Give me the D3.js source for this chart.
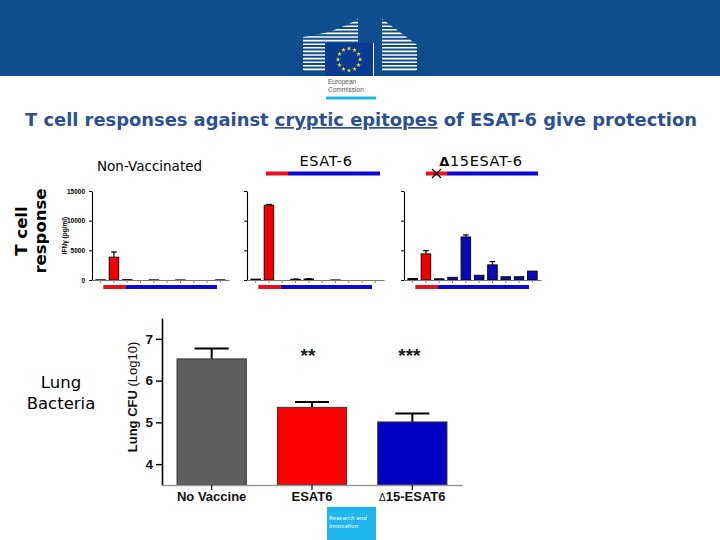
<!DOCTYPE html>
<html>
<head>
<meta charset="utf-8">
<script src="https://cdn.jsdelivr.net/npm/d3@7"></script>
<style>
  body { margin: 0; background: #fff; }
  svg { display: block; }
</style>
</head>
<body>
<svg id="slide"></svg>
<script>
// ---- data ----
// IFNγ (pg/ml) per peptide, three mouse groups
const peptides = ['p1', 'p2', 'p3', 'p4', 'p5', 'p6', 'p7', 'p8', 'p9', 'p10'];
const peptideType = ['control', 'dominant', 'cryptic', 'cryptic', 'cryptic', 'cryptic', 'cryptic', 'cryptic', 'cryptic', 'cryptic'];
const ifnTicks = [0, 5000, 10000, 15000];

const nonVaccMean = [40, 3850, 60, 0, 30, 0, 20, 0, 0, 30];
const nonVaccErr = [0, 870, 0, 0, 0, 0, 0, 0, 0, 0];
const esatMean = [150, 12600, 0, 120, 180, 0, 20, 0, 0, 0];
const esatErr = [0, 150, 0, 40, 40, 0, 0, 0, 0, 0];
const d15Mean = [250, 4400, 200, 450, 7250, 800, 2550, 550, 550, 1500];
const d15Err = [0, 550, 0, 0, 350, 0, 550, 0, 0, 0];

// lung bacteria (log10 CFU)
const vaccines = ['No Vaccine', 'ESAT6', '15-ESAT6'];
const cfuMean = [6.52, 5.36, 5.01];
const cfuErr = [0.25, 0.13, 0.2];
const signif = ['', '**', '***'];
const cfuTicks = [4, 5, 6, 7];

const W = 720, H = 540;
const svg = d3.select('#slide').attr('width', W).attr('height', H);

// ---- header band + logo ----
svg.append('rect').attr('width', W).attr('height', 76).attr('fill', '#0f4d8e');

const logo = svg.append('g');
const defs = svg.append('defs');
defs.append('clipPath').attr('id', 'bldL')
  .append('path').attr('d', 'M303,37 Q335,33 358,19 L358,72 L303,72 Z');
defs.append('clipPath').attr('id', 'bldR')
  .append('path').attr('d', 'M382,19 Q400,32 417,45 L417,72 L382,72 Z');
const stripeY = d3.range(19, 73, 3.6);
logo.append('g').attr('clip-path', 'url(#bldL)')
  .selectAll('line').data(stripeY).join('line')
  .attr('x1', 303).attr('x2', 358).attr('y1', d => d).attr('y2', d => d)
  .attr('stroke', '#fff').attr('stroke-width', 1.6);
logo.append('g').attr('clip-path', 'url(#bldR)')
  .selectAll('line').data(stripeY).join('line')
  .attr('x1', 382).attr('x2', 417).attr('y1', d => d).attr('y2', d => d)
  .attr('stroke', '#fff').attr('stroke-width', 1.6);
logo.append('rect').attr('x', 325).attr('y', 43).attr('width', 48).attr('height', 33).attr('fill', '#0b3a92');
logo.append('line').attr('x1', 373.5).attr('x2', 373.5).attr('y1', 43).attr('y2', 76).attr('stroke', '#fff').attr('stroke-width', 1);
logo.append('g').selectAll('path').data(d3.range(12)).join('path')
  .attr('d', d3.symbol(d3.symbolStar, 7))
  .attr('transform', i => `translate(${349 + 11 * Math.cos(i * Math.PI / 6)},${59.5 + 11 * Math.sin(i * Math.PI / 6)})`)
  .attr('fill', '#f3d431');
logo.append('text').attr('x', 328).attr('y', 84).text('European')
  .attr('font-family', 'Arial, Liberation Sans, sans-serif').attr('font-size', 6.5).attr('fill', '#555');
logo.append('text').attr('x', 328).attr('y', 92).text('Commission')
  .attr('font-family', 'Arial, Liberation Sans, sans-serif').attr('font-size', 6.5).attr('fill', '#555');
logo.append('rect').attr('x', 326).attr('y', 96.5).attr('width', 50).attr('height', 3).attr('fill', '#25b6e8');

// ---- title ----
const title = svg.append('text')
  .attr('x', 25).attr('y', 126)
  .attr('font-family', 'DejaVu Sans, Verdana, sans-serif')
  .attr('font-weight', 'bold').attr('font-size', 17)
  .attr('fill', '#2c5093')
  .attr('textLength', 672).attr('lengthAdjust', 'spacingAndGlyphs');
title.append('tspan').text('T cell responses against ');
title.append('tspan').text('cryptic epitopes').attr('text-decoration', 'underline');
title.append('tspan').text(' of ESAT-6 give protection');

// ---- row labels ----
const rowLab = svg.append('g').attr('font-family', 'DejaVu Sans, Verdana, sans-serif').attr('fill', '#000');
rowLab.append('text').attr('transform', 'translate(27,231) rotate(-90)').attr('text-anchor', 'middle')
  .attr('font-weight', 'bold').attr('font-size', 16.5).text('T cell');
rowLab.append('text').attr('transform', 'translate(46,231) rotate(-90)').attr('text-anchor', 'middle')
  .attr('font-weight', 'bold').attr('font-size', 16.5).text('response');
rowLab.append('text').attr('x', 61).attr('y', 388).attr('text-anchor', 'middle').attr('font-size', 16.5).text('Lung');
rowLab.append('text').attr('x', 61).attr('y', 409).attr('text-anchor', 'middle').attr('font-size', 16.5).text('Bacteria');

// ---- panel titles with antigen strips ----
const heads = svg.append('g').attr('font-family', 'DejaVu Sans, Verdana, sans-serif');
heads.append('text').attr('x', 97).attr('y', 171).attr('font-size', 13.5).text('Non-Vaccinated');
heads.append('text').attr('x', 326).attr('y', 166).attr('text-anchor', 'middle').attr('font-size', 14.5)
  .attr('letter-spacing', 0.6).text('ESAT-6');
const dt = heads.append('text').attr('x', 481).attr('y', 166).attr('text-anchor', 'middle').attr('font-size', 14.5)
  .attr('letter-spacing', 0.6);
dt.append('tspan').attr('font-weight', 'bold').attr('font-size', 13).text('\u0394');
dt.append('tspan').text('15ESAT-6');

function antigenStrip(g, x0, xr, x1, y, h) {
  g.append('rect').attr('x', x0).attr('y', y - h / 2).attr('width', xr - x0).attr('height', h).attr('fill', '#e8101a');
  g.append('rect').attr('x', xr).attr('y', y - h / 2).attr('width', x1 - xr).attr('height', h).attr('fill', '#0a0ad0');
}
antigenStrip(heads, 266, 288, 380, 173.5, 4);
antigenStrip(heads, 426, 447, 538, 173.5, 4);
heads.append('path').attr('d', 'M432,169 L441,178 M441,169 L432,178').attr('stroke', '#000').attr('stroke-width', 1.3);

// ---- small peptide panels ----
class PeptidePanel {
  constructor(_config, _means, _errs) {
    this.config = {
      parent: _config.parent,
      x0: _config.x0,
      top: _config.top || 191,
      bottom: _config.bottom || 280,
      showLabels: _config.showLabels || false
    };
    this.means = _means;
    this.errs = _errs;
    this.initVis();
  }

  initVis() {
    let vis = this;
    const c = vis.config;
    vis.g = c.parent.append('g');

    vis.xScale = d3.scaleBand().domain(peptides)
      .range([c.x0, c.x0 + 137]).paddingInner(0.28).paddingOuter(0.29);
    vis.yScale = d3.scaleLinear().domain([0, 15000]).range([c.bottom, c.top]);
    vis.color = d3.scaleOrdinal().domain(['control', 'dominant', 'cryptic'])
      .range(['#111', '#f00000', '#0a0ab8']);

    vis.renderVis();
  }

  renderVis() {
    let vis = this;
    const c = vis.config;
    const data = peptides.map((p, i) => ({ p, type: peptideType[i], v: vis.means[i], e: vis.errs[i] }));

    // error bars first so the bar covers the lower half
    const eb = vis.g.append('g').selectAll('g').data(data.filter(d => d.e > 0)).join('g');
    eb.append('line')
      .attr('x1', d => vis.xScale(d.p) + vis.xScale.bandwidth() / 2)
      .attr('x2', d => vis.xScale(d.p) + vis.xScale.bandwidth() / 2)
      .attr('y1', d => vis.yScale(d.v)).attr('y2', d => vis.yScale(d.v + d.e))
      .attr('stroke', '#000').attr('stroke-width', 1.2);
    eb.append('line')
      .attr('x1', d => vis.xScale(d.p) + 2).attr('x2', d => vis.xScale(d.p) + vis.xScale.bandwidth() - 2)
      .attr('y1', d => vis.yScale(d.v + d.e)).attr('y2', d => vis.yScale(d.v + d.e))
      .attr('stroke', '#000').attr('stroke-width', 1.2);

    vis.g.append('g').selectAll('rect').data(data.filter(d => d.v > 0)).join('rect')
      .attr('x', d => vis.xScale(d.p))
      .attr('y', d => vis.yScale(d.v))
      .attr('width', vis.xScale.bandwidth())
      .attr('height', d => vis.yScale(0) - vis.yScale(d.v))
      .attr('fill', d => vis.color(d.type))
      .attr('stroke', '#000').attr('stroke-width', 0.9);

    const yAxis = d3.axisLeft(vis.yScale).tickValues(ifnTicks).tickSize(3).tickSizeOuter(0)
      .tickFormat(c.showLabels ? d3.format('d') : '');
    const yG = vis.g.append('g').attr('transform', `translate(${c.x0},0)`).call(yAxis);
    yG.selectAll('text').attr('font-family', 'Arial, Liberation Sans, sans-serif')
      .attr('font-weight', 'bold').attr('font-size', 6.5).attr('dx', -1);
    yG.select('.domain').attr('stroke', '#000').attr('stroke-width', 1.1);

    const xAxis = d3.axisBottom(vis.xScale).tickSize(3).tickSizeOuter(0).tickFormat('');
    const xG = vis.g.append('g').attr('transform', `translate(0,${c.bottom})`).call(xAxis);
    xG.select('.domain').attr('stroke', '#777');
    xG.selectAll('.tick line').attr('stroke', '#888');

    // peptide coverage strip below the axis
    const step = vis.xScale.step();
    const mid = p => vis.xScale(p) + vis.xScale.bandwidth() / 2;
    antigenStrip(vis.g, mid(peptides[1]) - 0.8 * step, mid(peptides[2]) - 0.1 * step,
      mid(peptides[9]) - 0.25 * step, 287, 4);

    if (c.showLabels) {
      vis.g.append('text')
        .attr('transform', `translate(${c.x0 - 25},${(c.top + c.bottom) / 2}) rotate(-90)`)
        .attr('text-anchor', 'middle')
        .attr('font-family', 'Arial, Liberation Sans, sans-serif')
        .attr('font-weight', 'bold').attr('font-size', 6.5)
        .text('IFN\u03b3 (pg/ml)');
    }
  }
}

new PeptidePanel({ parent: svg, x0: 92, showLabels: true }, nonVaccMean, nonVaccErr);
new PeptidePanel({ parent: svg, x0: 247 }, esatMean, esatErr);
new PeptidePanel({ parent: svg, x0: 404 }, d15Mean, d15Err);

// ---- lung CFU chart ----
const cfu = svg.append('g');
const xCfu = d3.scaleBand().domain(vaccines).range([162, 462]).paddingInner(0.31).paddingOuter(0.15);
const yCfu = d3.scaleLinear().domain([3.5, 7.5]).range([485, 318]);
const cfuColor = d3.scaleOrdinal().domain(vaccines).range(['#5f5f5f', '#ff0000', '#0000c0']);
const cfuData = vaccines.map((v, i) => ({ v, m: cfuMean[i], e: cfuErr[i], s: signif[i] }));
const cx = d => xCfu(d.v) + xCfu.bandwidth() / 2;

const ebar = cfu.append('g').selectAll('g').data(cfuData).join('g');
ebar.append('line')
  .attr('x1', cx).attr('x2', cx)
  .attr('y1', d => yCfu(d.m)).attr('y2', d => yCfu(d.m + d.e))
  .attr('stroke', '#000').attr('stroke-width', 2);
ebar.append('line')
  .attr('x1', d => cx(d) - 17).attr('x2', d => cx(d) + 17)
  .attr('y1', d => yCfu(d.m + d.e)).attr('y2', d => yCfu(d.m + d.e))
  .attr('stroke', '#000').attr('stroke-width', 2);

cfu.append('g').selectAll('rect').data(cfuData).join('rect')
  .attr('x', d => xCfu(d.v))
  .attr('y', d => yCfu(d.m))
  .attr('width', xCfu.bandwidth())
  .attr('height', d => yCfu(3.5) - yCfu(d.m))
  .attr('fill', d => cfuColor(d.v))
  .attr('stroke', '#333').attr('stroke-width', 1);

cfu.append('g').selectAll('text').data(cfuData.filter(d => d.s)).join('text')
  .attr('x', d => cx(d) + (d.s.length === 2 ? -4 : -3))
  .attr('y', 362)
  .attr('text-anchor', 'middle')
  .attr('font-family', 'Arial, Liberation Sans, sans-serif')
  .attr('font-weight', 'bold').attr('font-size', 19)
  .attr('fill', '#222')
  .text(d => d.s);

const yAx = cfu.append('g').attr('transform', 'translate(162,0)')
  .call(d3.axisLeft(yCfu).tickValues(cfuTicks).tickSize(6).tickSizeOuter(0).tickPadding(3)
    .tickFormat(d3.format('d')));
yAx.select('.domain').attr('stroke', '#000').attr('stroke-width', 1.6);
yAx.selectAll('.tick line').attr('stroke-width', 1.4);
yAx.selectAll('text').attr('font-family', 'Arial, Liberation Sans, sans-serif')
  .attr('font-weight', 'bold').attr('font-size', 13.5).attr('fill', '#111');

const xAx = cfu.append('g').attr('transform', 'translate(0,485)')
  .call(d3.axisBottom(xCfu).tickSize(5).tickSizeOuter(0).tickFormat(''));
xAx.select('.domain').attr('stroke', '#999').attr('stroke-width', 1.4);
xAx.selectAll('.tick line').attr('stroke', '#222').attr('stroke-width', 1.3);

const xl = cfu.append('g').selectAll('text').data(cfuData).join('text')
  .attr('x', cx).attr('y', 501)
  .attr('text-anchor', 'middle')
  .attr('font-family', 'Arial, Liberation Sans, sans-serif')
  .attr('font-weight', 'bold').attr('font-size', 13)
  .attr('fill', '#111');
xl.filter((d, i) => i === 2).append('tspan').attr('font-size', 10).attr('font-weight', 'normal').text('\u0394');
xl.append('tspan').text(d => d.v);

const yl = cfu.append('text')
  .attr('transform', 'translate(137,397) rotate(-90)')
  .attr('text-anchor', 'middle')
  .attr('font-family', 'Arial, Liberation Sans, sans-serif')
  .attr('font-size', 13).attr('fill', '#111');
yl.append('tspan').attr('font-weight', 'bold').text('Lung CFU');
yl.append('tspan').text('  (Log10)');

// ---- footer badge ----
svg.append('rect').attr('x', 327).attr('y', 507).attr('width', 49).attr('height', 33).attr('fill', '#1fb6ee');
svg.append('text').attr('x', 329).attr('y', 520).text('Research and')
  .attr('font-family', 'DejaVu Sans, sans-serif').attr('font-style', 'italic').attr('font-size', 5.5).attr('fill', '#fff');
svg.append('text').attr('x', 329).attr('y', 528).text('Innovation')
  .attr('font-family', 'DejaVu Sans, sans-serif').attr('font-style', 'italic').attr('font-size', 5.5).attr('fill', '#fff');
</script>
</body>
</html>
